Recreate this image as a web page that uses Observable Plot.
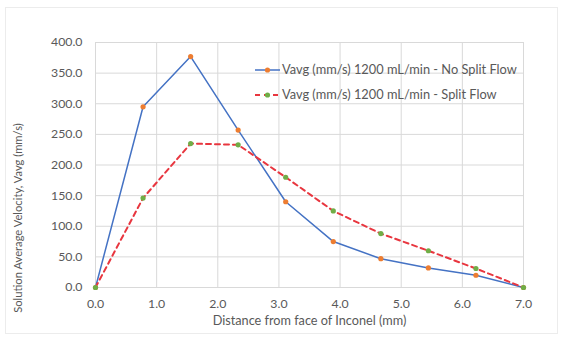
<!DOCTYPE html>
<html><head><meta charset="utf-8">
<script src="https://cdn.jsdelivr.net/npm/d3@7"></script>
<script src="https://cdn.jsdelivr.net/npm/@observablehq/plot@0.6"></script>
<style>
html,body{margin:0;padding:0;background:#fff;}
#wrap{position:relative;width:567px;height:340px;font-family:Lato,"Open Sans",sans-serif;}
#frame{position:absolute;left:5px;top:7px;width:553px;height:327px;border:1px solid #ececec;box-sizing:border-box;pointer-events:none;}
#legend{position:absolute;left:255px;top:57px;font-size:12.8px;color:#595959;line-height:25px;}
#legend div{display:flex;align-items:center;white-space:nowrap;}
#legend svg{margin-right:2px;}
</style></head>
<body><div id="wrap"><div id="frame"></div><div id="chart"></div><div id="legend"></div></div>
<script>
const distance = [0, 0.778, 1.556, 2.333, 3.111, 3.889, 4.667, 5.444, 6.222, 7.0];
const noSplit = [0, 295, 377, 257, 140, 75, 47, 32, 20, 0];
const split = [0, 146, 235, 233, 180, 125, 88, 60, 31, 0];
const seriesNames = ["Vavg (mm/s) 1200 mL/min - No Split Flow", "Vavg (mm/s) 1200 mL/min - Split Flow"];
const xTicks = [0, 1, 2, 3, 4, 5, 6, 7];
const yTicks = [0, 50, 100, 150, 200, 250, 300, 350, 400];

const dNo = distance.map((x, i) => ({x, y: noSplit[i]}));
const dSp = distance.map((x, i) => ({x, y: split[i]}));

const chart = Plot.plot({
  width: 567, height: 340,
  marginLeft: 95, marginRight: 44, marginTop: 42, marginBottom: 53,
  style: {fontFamily: "Lato, 'Open Sans', sans-serif", fontSize: "12px", color: "#595959", background: "transparent", overflow: "visible"},
  x: {domain: [0, 7], ticks: xTicks, tickFormat: d => d.toFixed(1), label: null},
  y: {domain: [0, 400], ticks: yTicks, tickFormat: d => d.toFixed(1), label: null},
  marks: [
    Plot.gridX(xTicks, {stroke: "#d9d9d9", strokeOpacity: 1}),
    Plot.gridY(yTicks, {stroke: "#d9d9d9", strokeOpacity: 1}),
    Plot.axisX({ticks: xTicks, tickSize: 0, tickPadding: 12, tickFormat: d => d.toFixed(1), label: null, fill: "#595959", fontSize: 12.3}),
    Plot.axisY({ticks: yTicks, tickSize: 0, tickPadding: 13, tickFormat: d => d.toFixed(1), label: null, fill: "#595959", fontSize: 12.3}),
    Plot.text(["Distance from face of Inconel (mm)"], {frameAnchor: "bottom", dy: 37, fill: "#595959", fontSize: 12.7}),
    Plot.text(["Solution Average Velocity, Vavg (mm/s)"], {frameAnchor: "left", textAnchor: "middle", dx: -77, dy: 53, rotate: -90, fill: "#595959", fontSize: 11.2}),
    Plot.line(dNo, {x: "x", y: "y", stroke: "#4472c4", strokeWidth: 1.5}),
    Plot.line(dSp, {x: "x", y: "y", stroke: "#e8363f", strokeWidth: 2, strokeDasharray: "5,4"}),
    Plot.dot(dNo, {x: "x", y: "y", r: 2.6, fill: "#ed7d31", stroke: "none"}),
    Plot.dot(dSp, {x: "x", y: "y", r: 2.6, fill: "#70ad47", stroke: "none"})
  ]
});
document.getElementById("chart").append(chart);

const lg = document.getElementById("legend");
lg.innerHTML =
  `<div><svg width="25" height="10"><line x1="0" y1="5" x2="25" y2="5" stroke="#4472c4" stroke-width="1.5"/><circle cx="12.5" cy="5" r="2.6" fill="#ed7d31"/></svg>${seriesNames[0]}</div>` +
  `<div><svg width="25" height="10"><line x1="0" y1="5" x2="25" y2="5" stroke="#e8363f" stroke-width="2" stroke-dasharray="5,4"/><circle cx="12.5" cy="5" r="2.6" fill="#70ad47"/></svg>${seriesNames[1]}</div>`;
</script></body></html>
